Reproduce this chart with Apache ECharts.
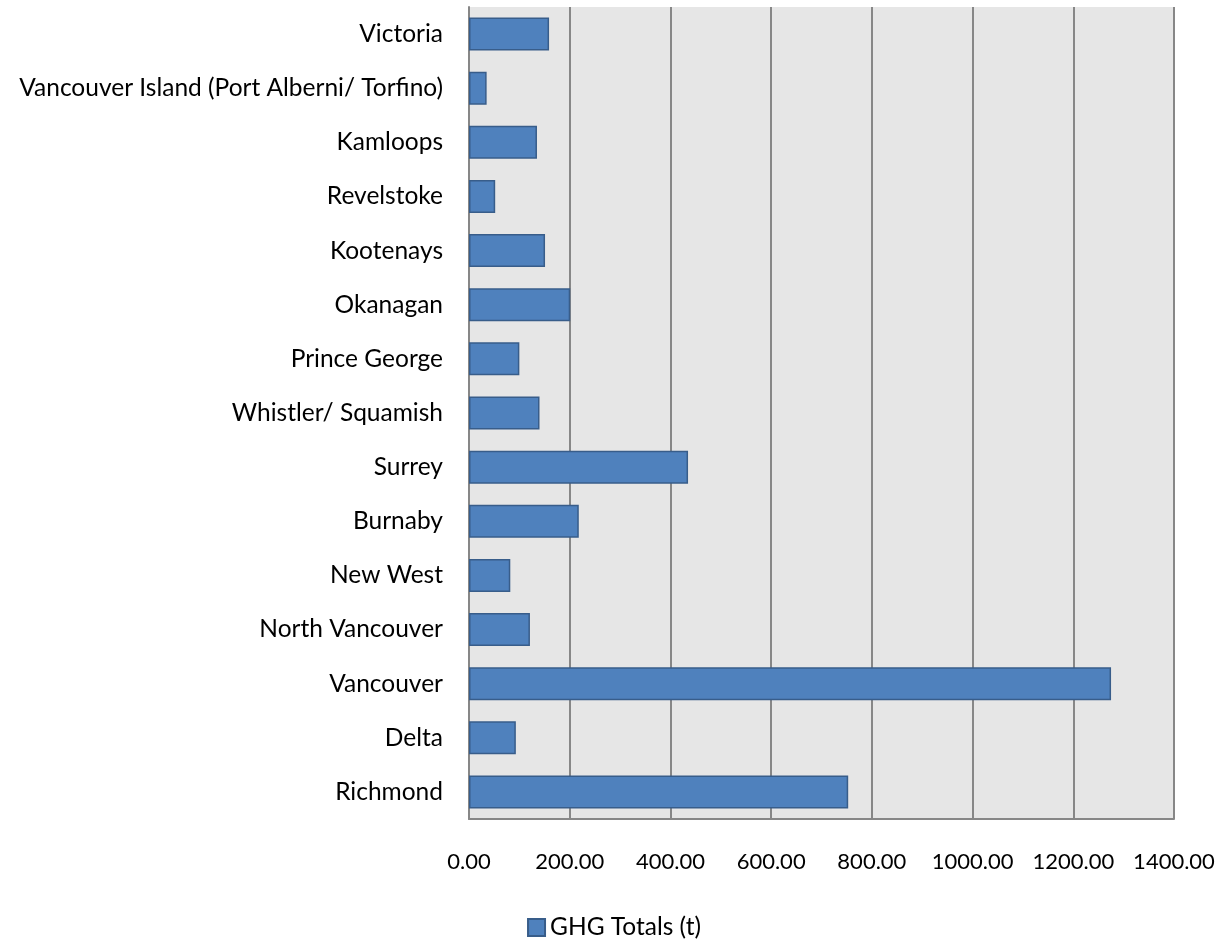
<!DOCTYPE html>
<html><head><meta charset="utf-8">
<script src="https://cdn.jsdelivr.net/npm/echarts@6/dist/echarts.min.js"></script>
<style>html,body{margin:0;padding:0;background:#fff}#c{width:1228px;height:944px}</style>
</head><body><div id="c"></div>
<script>
const categories = ["Victoria","Vancouver Island (Port Alberni/ Torfino)","Kamloops","Revelstoke","Kootenays","Okanagan","Prince George","Whistler/ Squamish","Surrey","Burnaby","New West","North Vancouver","Vancouver","Delta","Richmond"];
const ghgTotals = [159,35,135,52,151,201,100,140,435,218,82,121,1275,93,753];
const seriesName = "GHG Totals (t)";
const chart = echarts.init(document.getElementById('c'));
const font = 'Lato, sans-serif';
chart.setOption({
  animation:false,
  grid:{left:469,right:54,top:7,bottom:125,show:true,backgroundColor:'#E6E6E6',borderWidth:0},
  legend:{top:915,left:'center',itemWidth:17,itemHeight:17,itemGap:6,icon:'rect',padding:0,
    textStyle:{fontFamily:font,fontSize:24.5,color:'#000'},data:[seriesName]},
  xAxis:{type:'value',min:0,max:1400,interval:200,
    axisLine:{show:true,lineStyle:{color:'#878787',width:2}},
    axisTick:{show:false},
    splitLine:{show:true,lineStyle:{color:'#878787',width:2}},
    axisLabel:{margin:32,fontFamily:font,fontSize:22,color:'#000',formatter:v=>v.toFixed(2)}},
  yAxis:{type:'category',data:categories,inverse:true,
    axisLine:{show:true,lineStyle:{color:'#878787',width:2}},
    axisTick:{show:false},
    axisLabel:{margin:26,fontFamily:font,fontSize:24.5,color:'#000'}},
  series:[{name:seriesName,type:'bar',data:ghgTotals,barWidth:33,
    itemStyle:{color:'#4F81BD',borderColor:'#385D8A',borderWidth:1.5}}]
});
</script></body></html>
